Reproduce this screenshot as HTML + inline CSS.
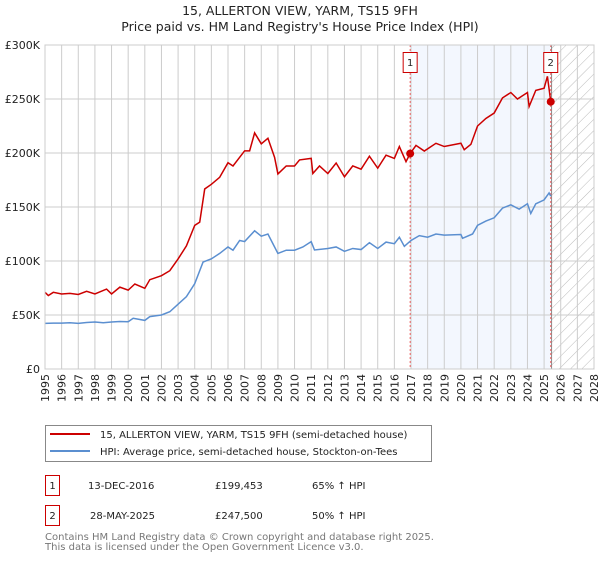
<!DOCTYPE html>
<html><head><meta charset="utf-8"><style>
body{margin:0;background:#fff;width:600px;height:560px;overflow:hidden;font-family:"DejaVu Sans","Liberation Sans",sans-serif;}
</style></head><body>
<svg width="600" height="560" xmlns="http://www.w3.org/2000/svg" font-family="DejaVu Sans, Liberation Sans, sans-serif">
<defs><pattern id="hatch" width="8" height="8" patternUnits="userSpaceOnUse" patternTransform="rotate(45)"><line x1="0" y1="0" x2="0" y2="8" stroke="#bbb" stroke-width="1"/></pattern></defs>
<text x="300" y="15" text-anchor="middle" font-size="12.5" fill="#222">15, ALLERTON VIEW, YARM, TS15 9FH</text>
<text x="300" y="31" text-anchor="middle" font-size="12.5" fill="#222">Price paid vs. HM Land Registry's House Price Index (HPI)</text>
<g id="plot"></g>
<g>
<rect x="45.5" y="425.5" width="386" height="36" fill="#fff" stroke="#888"/>
<line x1="50" y1="434" x2="90" y2="434" stroke="#cc0000" stroke-width="2"/>
<text x="100" y="438" font-size="10" fill="#222">15, ALLERTON VIEW, YARM, TS15 9FH (semi-detached house)</text>
<line x1="50" y1="451" x2="90" y2="451" stroke="#5b8fd0" stroke-width="2"/>
<text x="100" y="455" font-size="10" fill="#222">HPI: Average price, semi-detached house, Stockton-on-Tees</text>
</g>
<g font-size="10" fill="#222">
<rect x="45.5" y="475.5" width="14" height="20" fill="#fff" stroke="#cc0000"/>
<text x="52.5" y="489" text-anchor="middle">1</text>
<text x="88" y="489">13-DEC-2016</text><text x="215" y="489">£199,453</text><text x="312" y="489">65% ↑ HPI</text>
<rect x="45.5" y="505.5" width="14" height="20" fill="#fff" stroke="#cc0000"/>
<text x="52.5" y="519" text-anchor="middle">2</text>
<text x="90" y="519">28-MAY-2025</text><text x="215" y="519">£247,500</text><text x="312" y="519">50% ↑ HPI</text>
</g>
<text x="45" y="540" font-size="10" fill="#777">Contains HM Land Registry data © Crown copyright and database right 2025.</text>
<text x="45" y="550" font-size="10" fill="#777">This data is licensed under the Open Government Licence v3.0.</text>
</svg>
<script>
const hpiYears=[1995,1995.5,1996,1996.5,1997,1997.5,1998,1998.5,1999,1999.5,2000,2000.3,2001,2001.3,2002,2002.5,2003,2003.5,2004,2004.5,2005,2005.5,2006,2006.3,2006.7,2007,2007.6,2008,2008.4,2008.7,2009,2009.5,2010,2010.5,2011,2011.2,2012,2012.5,2013,2013.5,2014,2014.5,2015,2015.5,2016,2016.3,2016.6,2017,2017.5,2018,2018.5,2019,2020,2020.1,2020.7,2021,2021.5,2022,2022.5,2023,2023.5,2024,2024.2,2024.5,2025,2025.3,2025.4];
const hpiValues=[42.3,42.5,42.5,42.8,42.3,43,43.5,42.8,43.5,44,43.8,47,45,48.5,50,53,60,67,79,99,102,107,113,110,119,118,128,123,125,116,107,110,110,113,117.9,110.2,111.6,113,109,111.6,110.6,117,111.6,117.5,116,122,113.6,119,123.5,122,125,124,124.5,121,125,133,137,140,149,152,148,153,144,153,156.6,163,160];
const priceYears=[1995,1995.2,1995.5,1996,1996.5,1997,1997.5,1998,1998.7,1999,1999.5,2000,2000.4,2001,2001.3,2002,2002.5,2003,2003.5,2004,2004.3,2004.6,2005,2005.5,2006,2006.3,2006.7,2007,2007.3,2007.6,2008,2008.4,2008.8,2009,2009.5,2010,2010.3,2011,2011.1,2011.5,2012,2012.5,2013,2013.5,2014,2014.5,2015,2015.5,2016,2016.3,2016.7,2016.95,2017.3,2017.8,2018.5,2019,2020,2020.2,2020.6,2021,2021.5,2022,2022.5,2023,2023.4,2024,2024.1,2024.5,2025,2025.2,2025.4];
const priceValues=[71,68,71,69.5,70,69,72,69.5,74,69.5,75.8,73,78.7,74.7,82.7,86.4,91,101.9,114,133,136,166.7,171,177.5,191,188,196,202,202,218.6,208.5,213.6,196,180.6,188,188,193.6,195,181,188,181,190.7,178,188,185,197,186,198,195,206,192,199.5,207,201.8,209,206,209,203,208,225,232,237,251,256,250,256,243,258,260,271,247.5];
const saleYears=[2016.95,2025.4];
const saleValues=[199.453,247.5];
const yTicks=[0,50,100,150,200,250,300];
const yTickLabels=["£0","£50K","£100K","£150K","£200K","£250K","£300K"];
const xTicks=[];for(let y=1995;y<=2028;y++)xTicks.push(y);

const X0=45,X1=594,Y0=369,Y1=45;
const xs=y=>X0+(y-1995)/(2028-1995)*(X1-X0);
const ys=v=>Y0-v/300*(Y0-Y1);
const NS="http://www.w3.org/2000/svg";
const g=document.getElementById('plot');
function mk(t,a,p){const e=document.createElementNS(NS,t);for(const k in a)e.setAttribute(k,a[k]);(p||g).appendChild(e);return e;}
// shaded region between sales
const shade=mk('rect',{x:xs(saleYears[0]),y:Y1,width:xs(saleYears[1])-xs(saleYears[0]),height:Y0-Y1,fill:'#eef3fd',opacity:0.7});


const hatch=mk('rect',{x:xs(2025.45),y:Y1,width:X1-xs(2025.45),height:Y0-Y1,fill:'url(#hatch)'});


// grid
xTicks.forEach(t=>{
 const l=mk('line',{x1:xs(t),x2:xs(t),y1:Y1,y2:Y0,stroke:'#ccc','stroke-width':1});
 
 
 const tx=mk('text',{x:0,y:0,'font-size':11,fill:'#222','text-anchor':'end',transform:`translate(${xs(t)+4},${Y0+5}) rotate(-90)`});
 tx.textContent=t;
 
 
});
yTicks.forEach((t,i)=>{
 const l=mk('line',{x1:X0,x2:X1,y1:ys(t),y2:ys(t),stroke:'#ccc','stroke-width':1});
 
 
 const tx=mk('text',{x:X0-5,y:ys(t)+4,'font-size':11,fill:'#222','text-anchor':'end'});
 tx.textContent=yTickLabels[i];
 
 
});
mk('line',{x1:xs(2025.45),x2:xs(2025.45),y1:Y1,y2:Y0,stroke:'#888','stroke-width':1});
// sale vlines
saleYears.forEach((s,i)=>{
 const l=mk('line',{x1:xs(s),x2:xs(s),y1:Y1,y2:Y0,stroke:'#f06060','stroke-width':1,'stroke-dasharray':'2,2'});
 
 
 const b=mk('rect',{x:xs(s)-10.5,y:52.5,width:14,height:20,fill:'#fff',stroke:'#cc0000'});
 b.setAttribute('x',xs(s)-7);
 
 
 const t=mk('text',{x:xs(s),y:66,'font-size':10,'text-anchor':'middle',fill:'#222'});
 t.textContent=String(i+1);
 
 
});
const hp=mk('polyline',{points:hpiYears.map((y,i)=>xs(y)+','+ys(hpiValues[i])).join(' '),fill:'none',stroke:'#5b8fd0','stroke-width':1.5});


const pp=mk('polyline',{points:priceYears.map((y,i)=>xs(y)+','+ys(priceValues[i])).join(' '),fill:'none',stroke:'#cc0000','stroke-width':1.5});


saleYears.forEach((s,i)=>{
 const c=mk('circle',{cx:xs(s),cy:ys(saleValues[i]),r:4,fill:'#cc0000'});
 
 
});
mk('rect',{x:X0,y:Y1,width:X1-X0,height:Y0-Y1,fill:'none',stroke:'#ccc'});
</script>
</body></html>
